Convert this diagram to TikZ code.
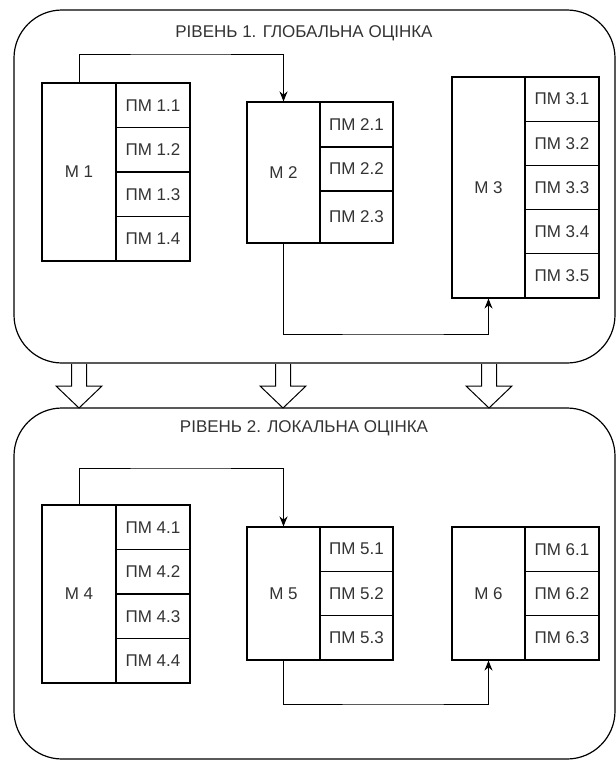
\documentclass[tikz,border=0pt]{standalone}
\usepackage{fontspec}
\setmainfont{Liberation Sans}
\usetikzlibrary{arrows.meta}
\begin{document}
\begin{tikzpicture}[x=1pt,y=-1pt,
  cell/.style={draw, line width=1.1pt, inner sep=0pt, text=black!80,
    font=\fontsize{17}{19}\selectfont},
  level/.style={draw, line width=1.2pt, rounded corners=48pt, inner sep=0pt},
  title/.style={inner sep=0pt, text=black!80, font=\fontsize{17}{19}\selectfont},
  link/.style={draw, line width=1pt, -{Stealth[length=10pt,width=8pt]}},
  hollow/.style={draw, line width=1pt, line join=miter}]
\useasboundingbox (0,0) rectangle (616,761);
% containers
\node[level, minimum width=601pt, minimum height=353pt] (lvl1) at (314.5,186.5) {};
\node[level, minimum width=601pt, minimum height=351pt] (lvl2) at (314.5,583.5) {};
\node[title] (t1) at (304,33) {РІВЕНЬ 1. ГЛОБАЛЬНА ОЦІНКА};
\node[title] (t2) at (304,428) {РІВЕНЬ 2. ЛОКАЛЬНА ОЦІНКА};
% M1
\node[cell, minimum width=74pt, minimum height=178pt] (m1) at (79,172) {М 1};
\foreach \i/\c in {1/105.25,2/149.75,3/194.25,4/238.75}
  \node[cell, minimum width=74pt, minimum height=44.5pt] (p1\i) at (153,\c) {ПМ 1.\i};
% M2
\node[cell, minimum width=73pt, minimum height=141pt] (m2) at (283.5,172.5) {М 2};
\node[cell, minimum width=73pt, minimum height=45pt] (p21) at (356.5,124.5) {ПМ 2.1};
\node[cell, minimum width=73pt, minimum height=44pt] (p22) at (356.5,169) {ПМ 2.2};
\node[cell, minimum width=73pt, minimum height=52pt] (p23) at (356.5,217) {ПМ 2.3};
% M3
\node[cell, minimum width=73pt, minimum height=221pt] (m3) at (488.5,187.5) {М 3};
\foreach \i/\c in {1/99.1,2/143.3,3/187.5,4/231.7,5/275.9}
  \node[cell, minimum width=74pt, minimum height=44.2pt] (p3\i) at (562,\c) {ПМ 3.\i};
% M4
\node[cell, minimum width=74pt, minimum height=178pt] (m4) at (79,594) {М 4};
\foreach \i/\c in {1/527.25,2/571.75,3/616.25,4/660.75}
  \node[cell, minimum width=74pt, minimum height=44.5pt] (p4\i) at (153,\c) {ПМ 4.\i};
% M5
\node[cell, minimum width=73pt, minimum height=133pt] (m5) at (283.5,593.5) {М 5};
\foreach \i/\c in {1/549.2,2/593.5,3/637.8}
  \node[cell, minimum width=73pt, minimum height=44.33pt] (p5\i) at (356.5,\c) {ПМ 5.\i};
% M6
\node[cell, minimum width=73pt, minimum height=133pt] (m6) at (488.5,593.5) {М 6};
\foreach \i/\c in {1/549.2,2/593.5,3/637.8}
  \node[cell, minimum width=74pt, minimum height=44.33pt] (p6\i) at (562,\c) {ПМ 6.\i};
% connectors
\coordinate (k1) at (180,54);
\coordinate (k2) at (400,334);
\coordinate (k3) at (180,468);
\coordinate (k4) at (400,704);
\draw[link] (m1.north) |- (k1) -| (m2.north);
\draw[link] (m2.south) |- (k2) -| (m3.south);
\draw[link] (m4.north) |- (k3) -| (m5.north);
\draw[link] (m5.south) |- (k4) -| (m6.south);
% hollow block arrows between levels
\foreach \x in {79,283,489}
  \draw[hollow] (\x-7.5,364) -- (\x-7.5,386) -- (\x-23,386) -- (\x,408)
     -- (\x+23,386) -- (\x+7.5,386) -- (\x+7.5,364);
\end{tikzpicture}
\end{document}
